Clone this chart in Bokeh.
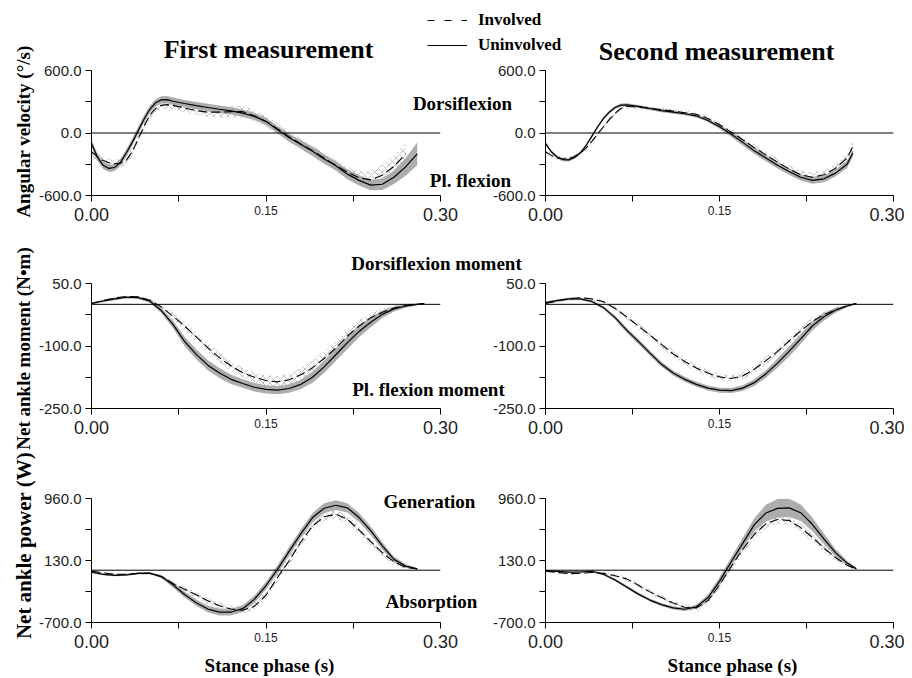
import numpy as np
from bokeh.plotting import figure
from bokeh.models import (Range1d, FixedTicker, PrintfTickFormatter, Span, Label, Legend,
                          LegendItem, LinearAxis)
from bokeh.layouts import row, column
from bokeh.embed import file_html
from bokeh.resources import INLINE

# ---------------- data ----------------
# Row 1 - ankle angular velocity (deg/s), first measurement
tA_unv = [0, 0.005, 0.01, 0.015, 0.02, 0.025, 0.03, 0.035, 0.04, 0.045, 0.05, 0.055, 0.06, 0.065, 0.07,
          0.08, 0.09, 0.10, 0.11, 0.12, 0.13, 0.14, 0.15, 0.16, 0.17, 0.18, 0.19, 0.20, 0.21, 0.22,
          0.23, 0.24, 0.25, 0.26, 0.27, 0.28]
vA_unv = [-100, -230, -310, -340, -330, -280, -190, -90, 20, 130, 225, 290, 318, 320, 305,
          283, 262, 245, 228, 212, 190, 160, 112, 30, -45, -110, -175, -250, -315, -395,
          -455, -500, -492, -425, -325, -200]
sdA_unv = [35, 35, 35, 35, 35, 35, 35, 35, 35, 35, 35, 35, 35, 35, 35,
           35, 35, 35, 35, 35, 35, 35, 35, 35, 38, 40, 45, 45, 45, 48,
           50, 50, 55, 65, 85, 110]
tA_inv = [0, 0.005, 0.01, 0.015, 0.02, 0.025, 0.03, 0.035, 0.04, 0.045, 0.05, 0.055, 0.06, 0.065, 0.07,
          0.08, 0.09, 0.10, 0.11, 0.12, 0.13, 0.14, 0.15, 0.16, 0.17, 0.18, 0.19, 0.20, 0.21, 0.22,
          0.23, 0.24, 0.25, 0.26, 0.27]
vA_inv = [-180, -230, -265, -285, -295, -290, -260, -180, -60, 60, 170, 235, 265, 272, 265,
          240, 215, 200, 200, 205, 205, 165, 110, 40, -35, -105, -170, -240, -310, -375,
          -430, -450, -405, -320, -200]
sdA_inv = [40, 40, 40, 40, 40, 40, 40, 40, 40, 40, 40, 40, 40, 40, 40,
           40, 40, 45, 50, 55, 55, 55, 55, 55, 55, 50, 50, 50, 50, 50,
           60, 80, 100, 110, 110]

# Row 1 - second measurement
tB_unv = [0, 0.005, 0.01, 0.015, 0.02, 0.025, 0.03, 0.035, 0.04, 0.045, 0.05, 0.055, 0.06, 0.065, 0.07,
          0.08, 0.09, 0.10, 0.11, 0.12, 0.13, 0.14, 0.15, 0.16, 0.17, 0.18, 0.19, 0.20, 0.21, 0.22,
          0.23, 0.24, 0.25, 0.26, 0.265]
vB_unv = [-100, -180, -230, -255, -258, -235, -190, -120, -30, 60, 140, 200, 245, 268, 270,
          255, 235, 215, 200, 185, 165, 120, 60, -10, -90, -170, -240, -310, -370, -425,
          -455, -440, -385, -300, -190]
sdB_unv = [15, 15, 15, 15, 15, 15, 15, 15, 15, 15, 15, 15, 15, 15, 15,
           15, 15, 15, 15, 15, 15, 15, 20, 25, 30, 30, 30, 30, 30, 30,
           32, 32, 32, 35, 35]
tB_inv = tB_unv
vB_inv = [-180, -215, -240, -250, -245, -225, -195, -145, -80, -10, 60, 130, 190, 235, 255,
          250, 235, 225, 210, 195, 180, 140, 80, 10, -65, -140, -210, -280, -345, -400,
          -425, -400, -340, -240, -130]
sdB_inv = [20, 20, 20, 20, 20, 20, 20, 20, 20, 20, 20, 20, 20, 20, 20,
           20, 20, 20, 20, 20, 20, 20, 20, 30, 35, 35, 35, 35, 35, 45,
           45, 45, 45, 50, 50]

# Row 2 - net ankle moment (N.m)
tC = [0, 0.01, 0.02, 0.03, 0.04, 0.05, 0.06, 0.07, 0.08, 0.09, 0.10, 0.11, 0.12, 0.13, 0.14,
      0.15, 0.16, 0.17, 0.18, 0.19, 0.20, 0.21, 0.22, 0.23, 0.24, 0.25, 0.26, 0.27, 0.28, 0.286]
vC_unv = [2, 8, 13, 17, 16, 8, -15, -48, -89, -120, -146, -165, -180, -190, -199,
          -204, -206, -202, -192, -175, -150, -121, -92, -65, -43, -24, -11, -4, 0, 2]
sdC_unv = [2, 3, 3, 3, 3, 4, 6, 9, 11, 12, 12, 12, 11, 10, 10,
           10, 10, 10, 11, 13, 15, 15, 15, 14, 12, 9, 6, 4, 2, 1]
vC_inv = [2, 9, 15, 19, 18, 10, -6, -29, -52, -78, -104, -128, -148, -164, -175,
          -183, -186, -181, -169, -152, -130, -105, -76, -52, -32, -19, -9, -3, 0, 2]
sdC_inv = [2, 3, 3, 3, 3, 4, 6, 9, 11, 12, 12, 12, 12, 12, 12,
           13, 14, 15, 16, 17, 17, 17, 16, 14, 12, 9, 6, 4, 2, 1]

tD_unv = [0, 0.01, 0.02, 0.03, 0.04, 0.05, 0.06, 0.07, 0.08, 0.09, 0.10, 0.11, 0.12, 0.13,
          0.14, 0.15, 0.16, 0.17, 0.18, 0.19, 0.20, 0.21, 0.22, 0.23, 0.24, 0.25, 0.26, 0.268]
vD_unv = [4, 9, 13, 13, 7, -8, -32, -62, -89, -117, -144, -165, -180, -192,
          -201, -206, -207, -201, -188, -167, -141, -113, -83, -52, -30, -14, -4, 2]
sdD_unv = [2, 3, 3, 3, 3, 4, 5, 6, 6, 6, 6, 6, 6, 6,
           6, 6, 6, 7, 8, 9, 11, 12, 12, 11, 9, 6, 3, 1]
tD_inv = [0, 0.01, 0.02, 0.03, 0.04, 0.05, 0.06, 0.07, 0.08, 0.09, 0.10, 0.11, 0.12, 0.13,
          0.14, 0.15, 0.16, 0.17, 0.18, 0.19, 0.20, 0.21, 0.22, 0.23, 0.24, 0.25, 0.26, 0.267]
vD_inv = [2, 8, 13, 16, 13, 6, -10, -30, -52, -74, -96, -119, -137, -153,
          -165, -174, -178, -172, -156, -135, -113, -88, -64, -41, -25, -13, -4, 2]
sdD_inv = [2, 3, 3, 3, 3, 4, 5, 6, 7, 8, 8, 8, 8, 8,
           8, 8, 8, 9, 10, 10, 10, 10, 10, 9, 8, 6, 3, 1]

# Row 3 - net ankle power (W)
tE = [0, 0.01, 0.02, 0.03, 0.04, 0.05, 0.06, 0.07, 0.08, 0.09, 0.10, 0.11, 0.12, 0.13, 0.14,
      0.15, 0.16, 0.17, 0.18, 0.19, 0.20, 0.21, 0.22, 0.23, 0.24, 0.25, 0.26, 0.27, 0.28]
vE_unv = [-27, -55, -70, -62, -43, -40, -85, -195, -325, -435, -520, -562, -560, -515, -390,
          -205, 15, 255, 490, 705, 830, 870, 835, 705, 530, 325, 145, 55, 18]
sdE_unv = [12, 12, 12, 12, 12, 14, 20, 35, 40, 42, 45, 45, 45, 45, 48,
           52, 55, 58, 60, 62, 65, 65, 62, 60, 55, 50, 40, 25, 10]
vE_inv = [-12, -35, -55, -55, -42, -40, -85, -178, -255, -330, -410, -475, -520, -535, -485,
          -335, -95, 130, 380, 590, 715, 750, 680, 540, 385, 235, 110, 40, 18]
sdE_inv = [15, 15, 15, 15, 15, 18, 25, 35, 35, 38, 40, 45, 50, 50, 50,
           55, 60, 60, 60, 60, 55, 55, 55, 55, 50, 45, 40, 25, 10]

tF_unv = [0, 0.01, 0.02, 0.03, 0.04, 0.05, 0.06, 0.07, 0.08, 0.09, 0.10, 0.11, 0.12, 0.13,
          0.14, 0.15, 0.16, 0.17, 0.18, 0.19, 0.20, 0.21, 0.22, 0.23, 0.24, 0.25, 0.26, 0.268]
vF_unv = [-4, -15, -26, -24, -14, -55, -130, -226, -320, -400, -461, -505, -523, -490,
          -370, -150, 110, 360, 610, 765, 828, 835, 770, 615, 420, 235, 95, 18]
sdF_unv = [8, 8, 10, 10, 10, 15, 18, 20, 20, 20, 20, 22, 22, 25,
           40, 55, 60, 70, 85, 110, 125, 120, 110, 90, 70, 50, 30, 10]
tF_inv = [0, 0.01, 0.02, 0.03, 0.04, 0.05, 0.06, 0.07, 0.08, 0.09, 0.10, 0.11, 0.12, 0.13,
          0.14, 0.15, 0.16, 0.17, 0.18, 0.19, 0.20, 0.21, 0.22, 0.23, 0.24, 0.25, 0.26, 0.267]
vF_inv = [-13, -30, -47, -40, -30, -40, -75, -116, -200, -290, -365, -440, -495, -505,
          -410, -200, 45, 280, 480, 620, 680, 665, 570, 440, 295, 170, 65, 18]
sdF_inv = [10, 10, 12, 12, 12, 15, 20, 25, 28, 30, 30, 32, 35, 40,
           45, 50, 55, 60, 60, 60, 60, 60, 58, 55, 50, 40, 25, 10]

# axes / tick definitions
x_major = [0.15]
x_minor = [0.0, 0.075, 0.225, 0.30]
x_end_ticks = [0.0, 0.30]
y_ranges = [(-600.0, 600.0), (-250.0, 50.0), (-700.0, 960.0)]
y_major = [[-600.0, 0.0, 600.0], [-250.0, -100.0, 50.0], [-700.0, 130.0, 960.0]]
y_minor = [[-300.0, 300.0], [-175.0, -25.0], [-285.0, 545.0]]
y_titles = ["Angular velocity (°/s)", "Net ankle moment (N•m)", "Net ankle power (W)"]
col_titles = ["First measurement", "Second measurement"]
legend_labels = ["Involved", "Uninvolved"]
notes = [("Dorsiflexion", "Pl. flexion"), ("Dorsiflexion moment", "Pl. flexion moment"),
         ("Generation", "Absorption")]
x_title = "Stance phase (s)"

series = [
    [(tA_inv, vA_inv, sdA_inv, tA_unv, vA_unv, sdA_unv), (tB_inv, vB_inv, sdB_inv, tB_unv, vB_unv, sdB_unv)],
    [(tC, vC_inv, sdC_inv, tC, vC_unv, sdC_unv), (tD_inv, vD_inv, sdD_inv, tD_unv, vD_unv, sdD_unv)],
    [(tE, vE_inv, sdE_inv, tE, vE_unv, sdE_unv), (tF_inv, vF_inv, sdF_inv, tF_unv, vF_unv, sdF_unv)],
]

# ---------------- layout geometry (page pixels) ----------------
PAGE_W, PAGE_H = 904, 678
FRAME_X = [(91, 349), (545, 348)]
FIG_X = [(0, 470), (470, 904)]
FRAME_Y = [(70, 125), (283, 125), (498, 124)]
ROW_Y = [(0, 232), (232, 445), (445, 678)]
SERIF = "Liberation Serif"
SANS = "Liberation Sans"
INK = "#222222"
DASH = "9 4"
LW_INV, LW_UNV = 1.1, 1.2


def style_axis(ax):
    ax.axis_line_color = "black"
    ax.axis_line_width = 1
    ax.major_tick_line_color = "black"
    ax.minor_tick_line_color = "black"
    ax.major_tick_in = 0
    ax.major_tick_out = 6
    ax.minor_tick_in = 0
    ax.minor_tick_out = 6
    ax.major_label_text_font = SANS
    ax.major_label_text_color = INK


def make_panel(side, r):
    fx0, fw = FRAME_X[side]
    gx0, gx1 = FIG_X[side]
    fy0, fh = FRAME_Y[r]
    ry0, ry1 = ROW_Y[r]
    ymin, ymax = y_ranges[r]
    p = figure(frame_width=fw, frame_height=fh,
               x_range=Range1d(0, 0.30), y_range=Range1d(ymin, ymax),
               min_border_left=fx0 - gx0, min_border_right=gx1 - (fx0 + fw),
               min_border_top=fy0 - ry0, min_border_bottom=ry1 - (fy0 + fh),
               toolbar_location=None, output_backend="svg",
               background_fill_color=None, border_fill_color=None,
               outline_line_color=None)
    p.xgrid.visible = False
    p.ygrid.visible = False

    xa = p.xaxis[0]
    xa.ticker = FixedTicker(ticks=x_major, minor_ticks=x_minor)
    xa.formatter = PrintfTickFormatter(format="%.2f")
    style_axis(xa)
    xa.major_label_text_font_size = "12px"
    xa.major_label_standoff = 4

    ya = p.yaxis[0]
    ya.ticker = FixedTicker(ticks=y_major[r], minor_ticks=y_minor[r])
    ya.formatter = PrintfTickFormatter(format="%.1f")
    style_axis(ya)
    ya.major_label_text_font_size = "15px"
    ya.major_label_standoff = 4

    # second x axis carrying the larger end labels 0.00 / 0.30
    xb = LinearAxis(ticker=FixedTicker(ticks=x_end_ticks), formatter=PrintfTickFormatter(format="%.2f"),
                    axis_line_color=None, major_tick_line_color=None, minor_tick_line_color=None,
                    major_tick_in=0, major_tick_out=0, minor_tick_in=0, minor_tick_out=0,
                    major_label_text_font=SANS, major_label_text_font_size="18px",
                    major_label_text_color=INK, major_label_standoff=-10)
    p.add_layout(xb, "below")

    t_i, v_i, s_i, t_u, v_u, s_u = series[r][side]
    v_i = np.array(v_i, dtype=float); s_i = np.array(s_i, dtype=float)
    v_u = np.array(v_u, dtype=float); s_u = np.array(s_u, dtype=float)

    p.varea(x=t_i, y1=v_i - s_i, y2=v_i + s_i, fill_color="white", fill_alpha=1.0,
            hatch_pattern="x", hatch_color="#bdbdbd", hatch_scale=7, hatch_weight=0.9)
    p.varea(x=t_u, y1=v_u - s_u, y2=v_u + s_u, fill_color="#a9a9a9", fill_alpha=0.95)
    p.add_layout(Span(location=0, dimension="width", line_color="black", line_width=1))
    p.line(t_i, v_i, line_color="black", line_width=LW_INV, line_dash=DASH)
    p.line(t_u, v_u, line_color="black", line_width=LW_UNV)
    return p


rows = [row(make_panel(0, r), make_panel(1, r)) for r in range(3)]

# ---------------- transparent text layer over the whole page ----------------
ov = figure(frame_width=PAGE_W, frame_height=PAGE_H,
            x_range=Range1d(0, PAGE_W), y_range=Range1d(PAGE_H, 0),
            min_border_left=0, min_border_right=0, min_border_top=0, min_border_bottom=0,
            x_axis_type=None, y_axis_type=None, toolbar_location=None, output_backend="svg",
            background_fill_color=None, border_fill_color=None, outline_line_color=None)
ov.grid.visible = False


def text(txt, x, y, size="19px", font=SERIF, bold=True, align="center",
         baseline="alphabetic", angle=0.0, color="black"):
    ov.add_layout(Label(x=x, y=y, text=txt, text_font=font,
                        text_font_style="bold" if bold else "normal",
                        text_font_size=size, text_color=color, text_align=align,
                        text_baseline=baseline, angle=angle))


text(col_titles[0], 268, 49, size="26px")
text(col_titles[1], 716, 51, size="26px")
for (txt, x, y) in [(notes[0][0], 462, 103), (notes[0][1], 470, 180),
                    (notes[1][0], 436, 263), (notes[1][1], 428, 389),
                    (notes[2][0], 429, 501), (notes[2][1], 431, 601)]:
    text(txt, x, y)
for txt, cy, fs in zip(y_titles, [131, 348, 545], ["19px", "19px", "21px"]):
    text(txt, 23, cy, size=fs, baseline="middle", angle=np.pi / 2)
text(x_title, 269, 665, size="19px")
text(x_title, 732, 665, size="19px")

# legend (line samples copy the styles of the panel curves)
r_inv = ov.line(x=[np.nan, np.nan], y=[np.nan, np.nan], line_color="black",
                line_width=LW_INV, line_dash="7 10")
r_unv = ov.line(x=[np.nan, np.nan], y=[np.nan, np.nan], line_color="black", line_width=LW_UNV)
leg = Legend(items=[LegendItem(label=legend_labels[0], renderers=[r_inv]),
                    LegendItem(label=legend_labels[1], renderers=[r_unv])],
             location=(427, PAGE_H - 55),
             glyph_width=40, glyph_height=20, label_height=20, label_standoff=11,
             spacing=5, padding=0, margin=0, border_line_color=None,
             background_fill_alpha=0, inactive_fill_alpha=0, label_text_color="black",
             label_text_font=SERIF, label_text_font_style="bold", label_text_font_size="17px")
ov.add_layout(leg)
ov.margin = (-PAGE_H, 0, 0, 0)

layout = column(*rows, ov)
open("out.html", "w").write(file_html(layout, INLINE))
